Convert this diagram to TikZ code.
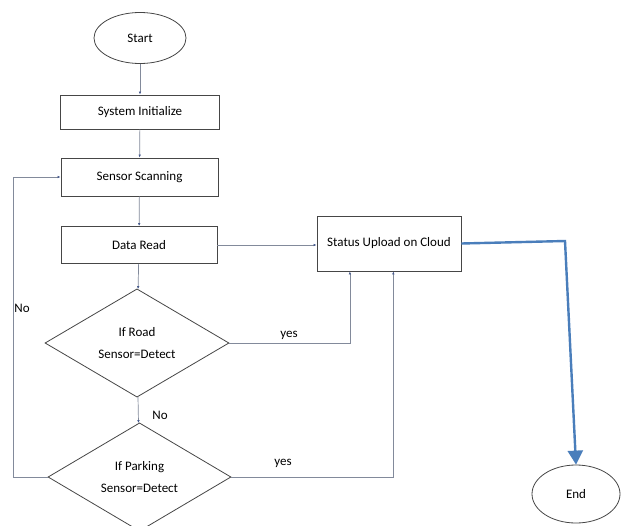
\documentclass[tikz,border=0pt]{standalone}
\usepackage{fontspec}
\setmainfont{Carlito}
\usetikzlibrary{shapes.geometric,arrows.meta,calc}
\definecolor{boxline}{RGB}{70,70,70}
\definecolor{conn}{RGB}{130,138,155}
\definecolor{tipc}{RGB}{70,90,140}
\definecolor{bluel}{RGB}{74,126,187}
\tikzset{
  x=1pt,y=-1pt,
  every node/.style={font=\fontsize{13}{22}\selectfont},
  term/.style={ellipse,draw=boxline,line width=0.8pt,inner sep=0pt},
  proc/.style={rectangle,draw=boxline,line width=0.8pt,inner sep=0pt},
  decis/.style={diamond,draw=boxline,line width=0.8pt,inner sep=0pt,align=center},
  conn/.style={draw=conn,line width=0.7pt,-{Latex[length=3pt,width=2.5pt,color=tipc]}},
  bigarrow/.style={draw=bluel,line width=2.4pt,-{Triangle[length=14pt,width=15pt]}},
  lbl/.style={inner sep=0pt}
}
\begin{document}
\begin{tikzpicture}
\useasboundingbox (0,0) rectangle (621,525);
\fill[white] (0,0) rectangle (621,525);
\node[term,minimum width=92pt,minimum height=51pt] (start) at (140,38) {Start};
\node[proc,minimum width=159pt,minimum height=34pt] (init) at (140,112) {System Initialize};
\node[proc,minimum width=157pt,minimum height=38pt] (scan) at (139.5,177) {Sensor Scanning};
\node[proc,minimum width=156pt,minimum height=37pt] (read) at (139,245) {Data Read};
\node[proc,minimum width=144pt,minimum height=55pt] (status) at (389,243.5) {Status Upload on Cloud};
\node[decis,minimum width=184pt,minimum height=105pt] (d1) at (137,343) {If Road\\Sensor=Detect};
\node[decis,minimum width=183pt,minimum height=106pt] (d2) at (139.5,477) {If Parking\\Sensor=Detect};
\node[term,minimum width=88pt,minimum height=58pt] (end) at (576,494) {End};

\coordinate (loop) at (13,477);
\coordinate (bend) at (565,241);

\draw[conn] (start) -- (init);
\draw[conn] (init) -- (scan);
\draw[conn] (scan) -- (read);
\draw[conn] (read) -- (d1);
\draw[conn] (d1) -- (d2);
\draw[conn] (read.east) -- (read.east -| status.west);
\draw[conn] (d1.east) -| ($(status.south west)!0.23!(status.south east)$);
\draw[conn] (d2.east) -| ($(status.south west)!0.53!(status.south east)$);
\draw[conn] (d2.west) -- (loop) |- (scan.west);
\draw[bigarrow] (status.east) -- (bend) -- (end.north);

\node[lbl] (yes1) at (289,335) {yes};
\node[lbl] (yes2) at (283,463) {yes};
\node[lbl] (no1) at (22,308) {No};
\node[lbl] (no2) at (160,415) {No};
\end{tikzpicture}
\end{document}
